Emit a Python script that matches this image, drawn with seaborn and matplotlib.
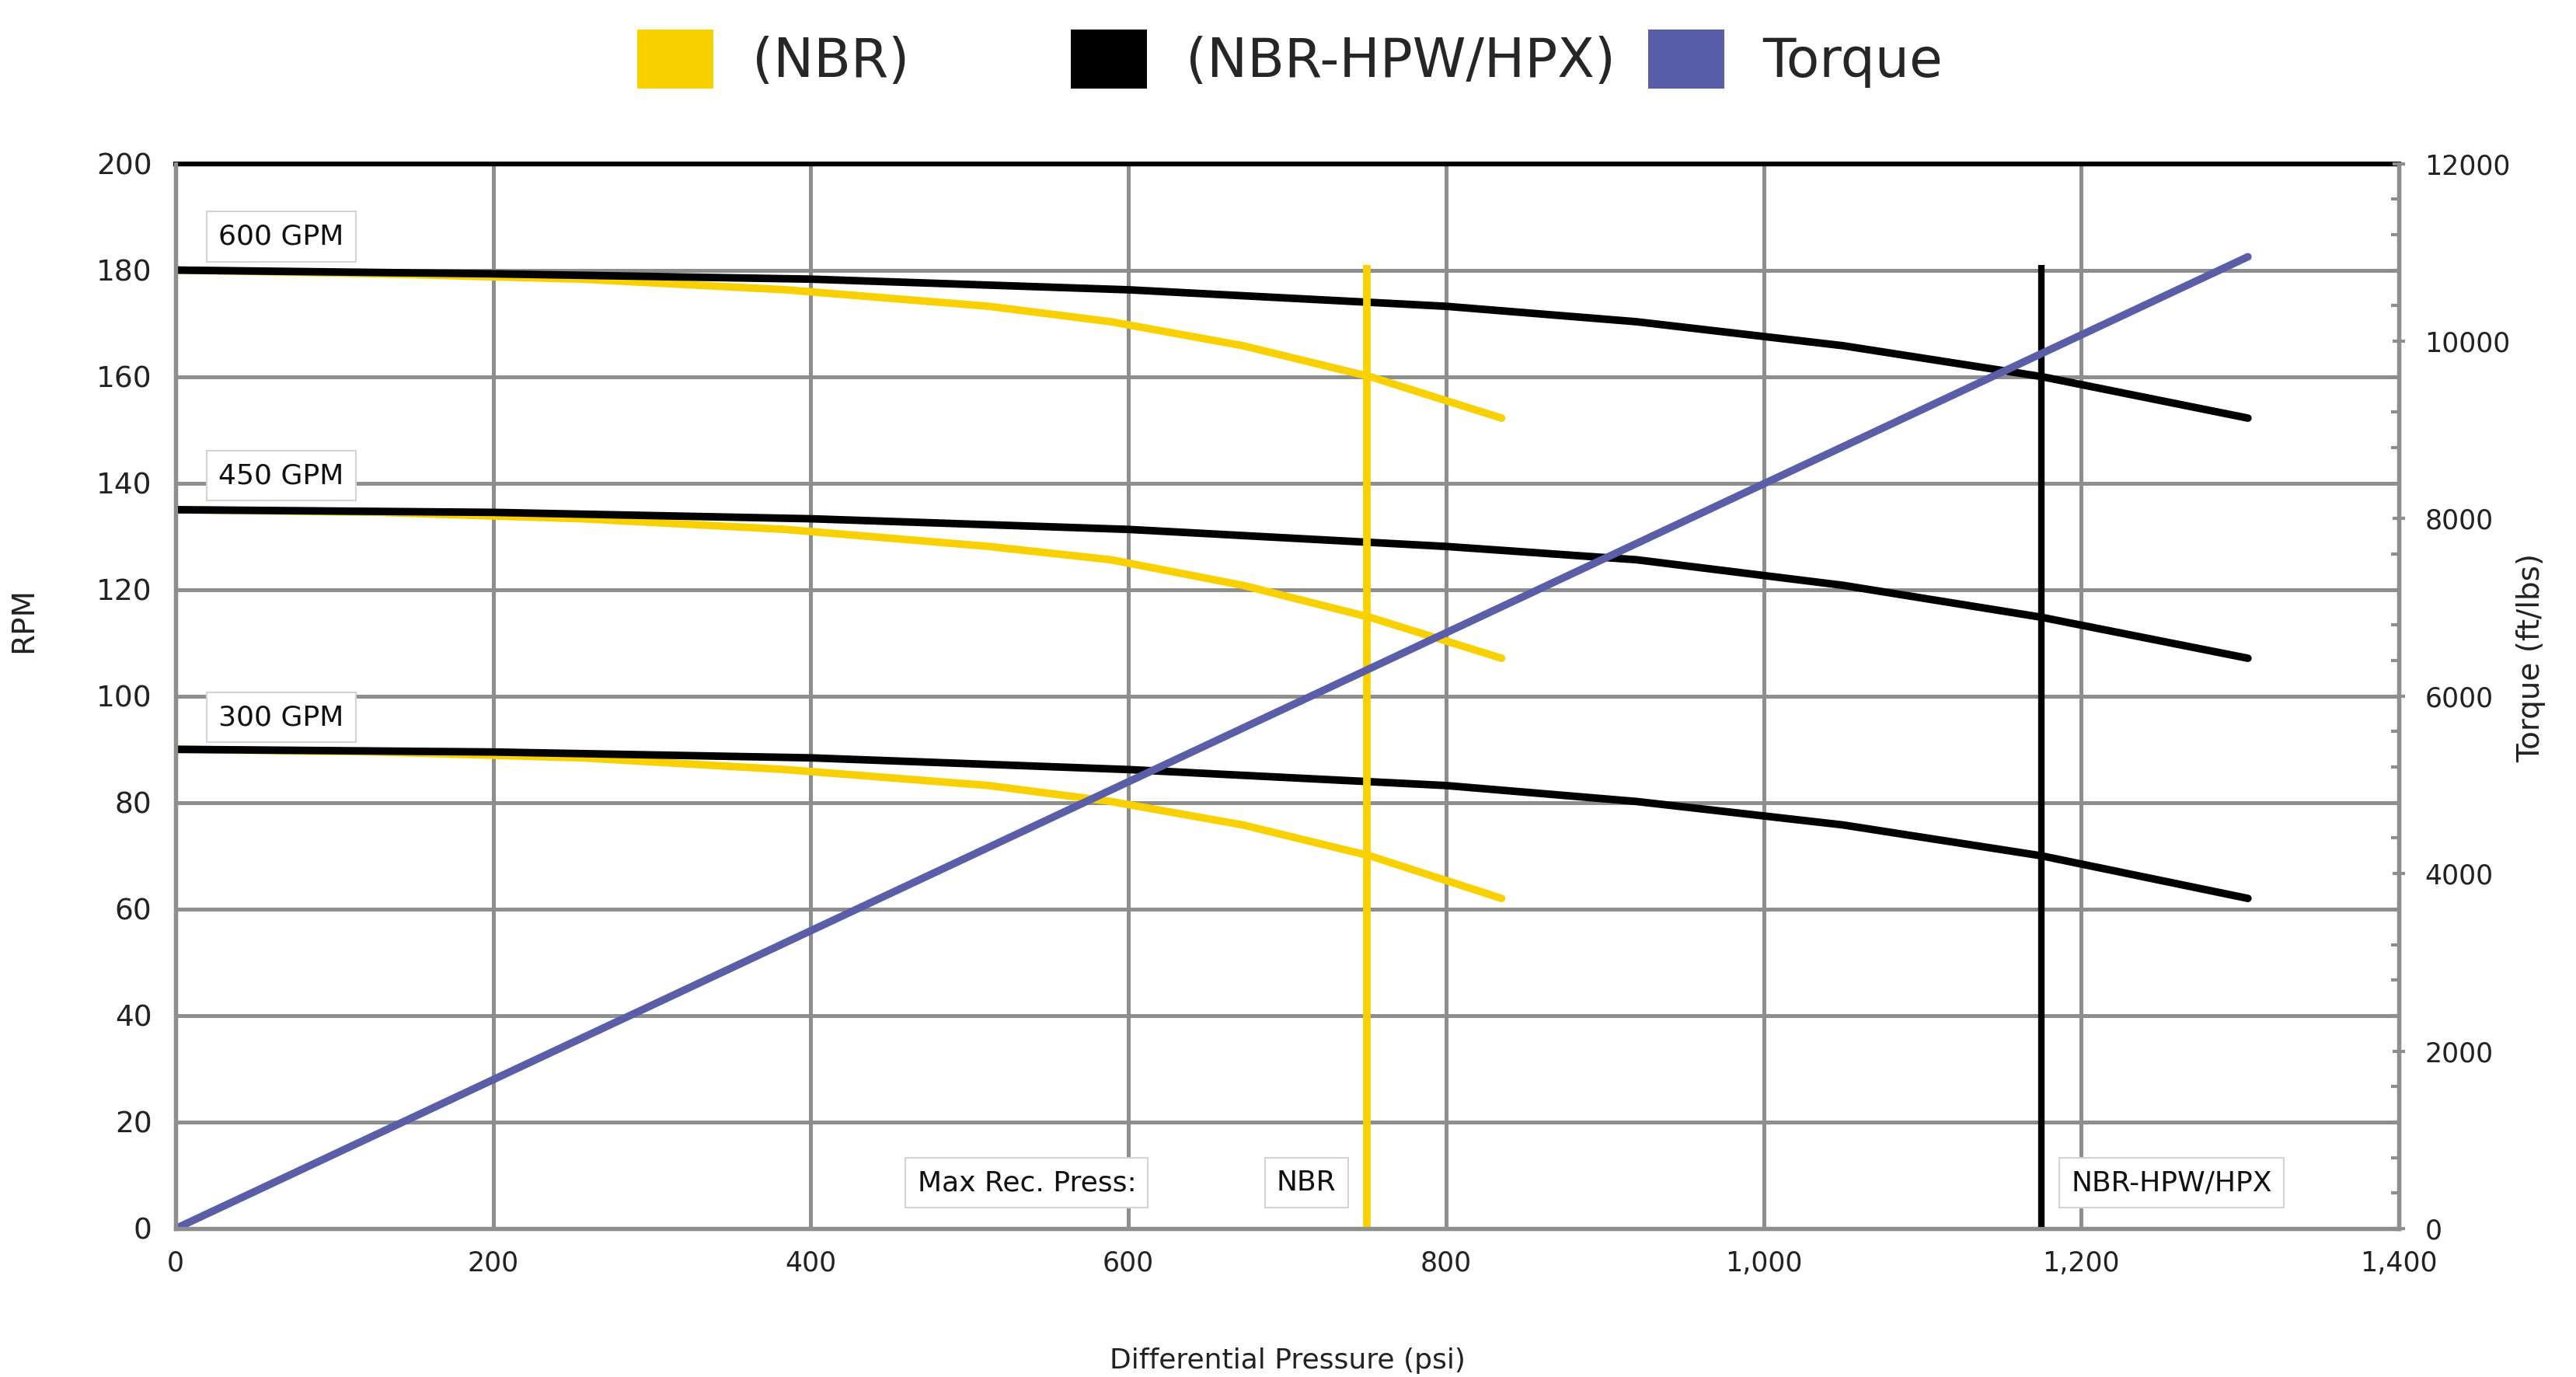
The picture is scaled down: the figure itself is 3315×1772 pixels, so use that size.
import numpy as np
import pandas as pd
import matplotlib
matplotlib.use("Agg")
import matplotlib.pyplot as plt
import matplotlib.ticker as mticker
from matplotlib.patches import Patch
import seaborn as sns

# curve data
hpw_psi = [0, 200, 400, 600, 800, 920, 1050, 1175, 1305]
nbr_psi = [0, 128, 256, 384, 512, 589, 672, 752, 835]
rpm_600 = [180, 179.3, 178.3, 176.3, 173.2, 170.3, 165.8, 160, 152.2]
rpm_450 = [135, 134.5, 133.3, 131.3, 128.1, 125.6, 120.8, 114.8, 107.1]
rpm_300 = [90, 89.5, 88.4, 86.2, 83.2, 80.2, 75.8, 70, 62]
flow_labels = ["600 GPM", "450 GPM", "300 GPM"]

torque_psi = [0, 1305]
torque_val = [0, 10950]

max_press = [750, 1175]
max_press_top = 181

legend_labels = ["(NBR)", "(NBR-HPW/HPX)", "Torque"]

YELLOW = "#F9D000"
BLACK = "#000000"
BLUE = "#5A5DA8"
GRID = "#8E8E8E"

sns.set_style("white")
plt.rcParams['font.family'] = ['DejaVu Sans']

fig = plt.figure(figsize=(33.15, 17.72), dpi=100)
ax = fig.add_axes([0.0682, 0.1078, 0.8630, 0.7734])
ax2 = ax.twinx()

# NBR curves (under), NBR-HPW/HPX curves (over)
for rpm in [rpm_600, rpm_450, rpm_300]:
    sns.lineplot(x=nbr_psi, y=rpm, ax=ax, color=YELLOW, lw=7, sort=False, estimator=None,
                 zorder=3, solid_capstyle='round')
for rpm in [rpm_600, rpm_450, rpm_300]:
    sns.lineplot(x=hpw_psi, y=rpm, ax=ax, color=BLACK, lw=7, sort=False, estimator=None,
                 zorder=4, solid_capstyle='round')

# max recommended pressure lines
ax.vlines(max_press[0], 0, max_press_top, color=YELLOW, lw=7, zorder=5)
ax.vlines(max_press[1], 0, max_press_top, color=BLACK, lw=6, zorder=5)

# torque on right axis
sns.lineplot(x=torque_psi, y=torque_val, ax=ax2, color=BLUE, lw=7, sort=False, estimator=None,
             solid_capstyle='round')

ax.set_xlim(0, 1400)
ax.set_ylim(0, 200)
ax2.set_ylim(0, 12000)

ax.set_xticks(np.arange(0, 1401, 200))
ax.xaxis.set_minor_locator(mticker.MultipleLocator(40))
ax.xaxis.set_major_formatter(mticker.FuncFormatter(lambda v, p: f"{int(v):,}"))
ax.set_yticks(np.arange(0, 201, 20))
ax2.set_yticks(np.arange(0, 12001, 2000))
ax2.yaxis.set_minor_locator(mticker.MultipleLocator(400))

ax.grid(True, which='major', color=GRID, lw=3.6, zorder=0)
ax.set_axisbelow(True)

for s in ['left', 'bottom', 'right']:
    ax.spines[s].set_color(GRID)
    ax.spines[s].set_linewidth(3.8)
    ax2.spines[s].set_color(GRID)
    ax2.spines[s].set_linewidth(3.8)
ax.spines['top'].set_color(BLACK)
ax.spines['top'].set_linewidth(4.5)
ax2.spines['top'].set_visible(False)

ax.tick_params(axis='x', which='major', direction='inout', length=12, width=3, color=GRID,
               labelsize=25, pad=14, labelcolor='#222222')
ax.tick_params(axis='x', which='minor', direction='out', length=7, width=3, color=GRID)
ax.tick_params(axis='y', length=0, labelsize=27, pad=22, labelcolor='#222222')
ax2.tick_params(axis='y', which='major', direction='inout', length=12, width=3, color=GRID,
                labelsize=25, pad=18, labelcolor='#222222')
ax2.tick_params(axis='y', which='minor', direction='in', length=7, width=3, color=GRID)

ax.set_xlabel("Differential Pressure (psi)", fontsize=26, color='#222222')
ax.xaxis.set_label_coords(0.5, -0.112)
ax.set_ylabel("RPM", fontsize=28, color='#222222')
ax.yaxis.set_label_coords(-0.062, 0.571)
ax2.set_ylabel("Torque (ft/lbs)", fontsize=28, color='#222222')
ax2.yaxis.set_label_coords(1.053, 0.536)

box = dict(boxstyle='square,pad=0.42', fc='white', ec='#D4D4D4', lw=1.5)
for lab, yv in zip(flow_labels, [186.3, 141.4, 96]):
    ax.text(66.5, yv, lab, fontsize=26, ha='center', va='center', color='#111111', bbox=box, zorder=6)
ax.text(536, 8.6, "Max Rec. Press:", fontsize=26, ha='center', va='center', color='#111111', bbox=box, zorder=6)
ax.text(712, 8.6, "NBR", fontsize=26, ha='center', va='center', color='#111111', bbox=box, zorder=6)
ax.text(1257, 8.6, "NBR-HPW/HPX", fontsize=26, ha='center', va='center', color='#111111', bbox=box, zorder=6)

# legend entries are unevenly spaced in the original, so one small legend each
for col, lab, xpos in zip([YELLOW, BLACK, BLUE], legend_labels, [0.2474, 0.4158, 0.6397]):
    fig.legend([Patch(facecolor=col, lw=0)], [lab], loc='center left', bbox_to_anchor=(xpos, 0.957),
               frameon=False, fontsize=50, handlelength=1.41, handleheight=1.3,
               handletextpad=0.72, borderpad=0, borderaxespad=0)

fig.savefig("out.png", dpi=100)
